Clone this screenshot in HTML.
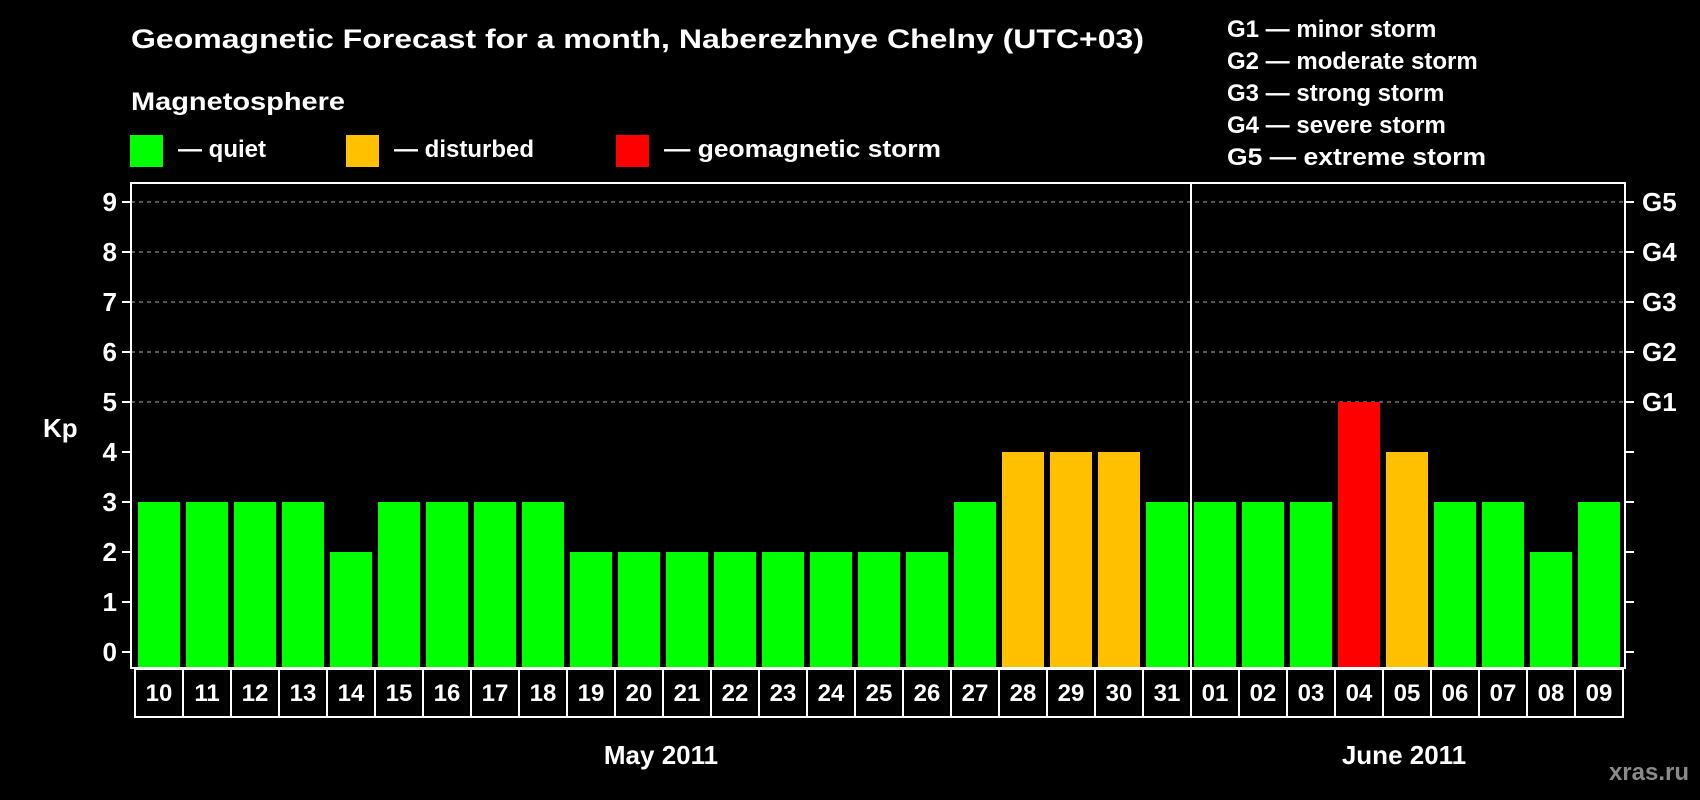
<!DOCTYPE html>
<html><head><meta charset="utf-8"><style>
html,body{margin:0;padding:0;background:#000;}
svg{display:block;font-family:"Liberation Sans",Arial,sans-serif;font-weight:bold;}
</style></head><body>
<svg id="chart" width="1700" height="800" viewBox="0 0 1700 800">
<rect x="0" y="0" width="1700" height="800" fill="#000"/>
<text x="131" y="48" fill="#fff" font-size="27" textLength="1013" lengthAdjust="spacingAndGlyphs">Geomagnetic Forecast for a month, Naberezhnye Chelny (UTC+03)</text>
<text x="131" y="110" fill="#fff" font-size="25" textLength="214" lengthAdjust="spacingAndGlyphs">Magnetosphere</text>
<g>
<rect x="130" y="135" width="33" height="32" fill="#00ff00"/>
<text x="178" y="157" fill="#fff" font-size="24">— quiet</text></g>
<g>
<rect x="346" y="135" width="33" height="32" fill="#ffc000"/>
<text x="394" y="157" fill="#fff" font-size="24">— disturbed</text></g>
<g>
<rect x="616" y="135" width="33" height="32" fill="#ff0000"/>
<text x="664" y="157" fill="#fff" font-size="24" textLength="277" lengthAdjust="spacingAndGlyphs">— geomagnetic storm</text></g>
<g fill="#fff" font-size="24">
<text x="1227" y="37">G1 — minor storm</text>
<text x="1227" y="69">G2 — moderate storm</text>
<text x="1227" y="101">G3 — strong storm</text>
<text x="1227" y="133">G4 — severe storm</text>
<text x="1227" y="165" textLength="259" lengthAdjust="spacingAndGlyphs">G5 — extreme storm</text>
</g>
<text x="43" y="437" fill="#fff" font-size="26">Kp</text>
<g id="grid"></g>
<g id="bars"></g>
<g id="axes"></g>
<text x="661" y="764" fill="#fff" font-size="26" text-anchor="middle">May 2011</text>
<text x="1404" y="764" fill="#fff" font-size="26" text-anchor="middle">June 2011</text>
<text x="1689" y="780" fill="#8a8a8a" font-size="24" text-anchor="end">xras.ru</text>
</svg>
<script>
const days = ["10","11","12","13","14","15","16","17","18","19","20","21","22","23","24","25","26","27","28","29","30","31","01","02","03","04","05","06","07","08","09"];
const kpValues = [3,3,3,3,2,3,3,3,3,2,2,2,2,2,2,2,2,3,4,4,4,3,3,3,3,5,4,3,3,2,3];
const yTicks = [0,1,2,3,4,5,6,7,8,9];
const gLabels = ["G1","G2","G3","G4","G5"];
const monthBreakIndex = 22;

const NS="http://www.w3.org/2000/svg";
const plotL=131, plotR=1625, plotT=183, plotB=668;
const y0=652, unit=50;
const yScale=v=>y0-v*unit;
const xStart=138, pitch=48, bw=42;
const xScale=i=>xStart+i*pitch;
function mk(tag,attrs,parent){const e=document.createElementNS(NS,tag);for(const k in attrs)e.setAttribute(k,attrs[k]);parent.appendChild(e);return e;}
const grid=document.getElementById('grid'),bars=document.getElementById('bars'),axes=document.getElementById('axes');
function color(v){return v>=5?"#ff0000":(v>=4?"#ffc000":"#00ff00");}

yTicks.forEach(t=>{
  const y=yScale(t);
  if(t>=5){const l=mk('line',{x1:plotL,x2:plotR,y1:y,y2:y,stroke:'#8c8c8c','stroke-width':1.2,'stroke-dasharray':'4,4'},grid);
    
    }
  const tl=mk('line',{x1:122,x2:plotL,y1:y,y2:y,stroke:'#fff','stroke-width':2},axes);
  
  
  const tr=mk('line',{x1:plotR,x2:plotR+9,y1:y,y2:y,stroke:'#fff','stroke-width':2},axes);
  
  
  const tx=mk('text',{x:117,y:y+9,fill:'#fff','font-size':26,'text-anchor':'end'},axes);
  tx.textContent=t;
  
  
  if(t>=5){const g=mk('text',{x:1642,y:y+9,fill:'#fff','font-size':26},axes);
    g.textContent=gLabels[t-5];
    
    }
});

kpValues.forEach((v,i)=>{
  const r=mk('rect',{x:xScale(i),y:yScale(v),width:bw,height:plotB-yScale(v),fill:color(v)},bars);
  
  
});

const frame=mk('rect',{x:plotL,y:plotT,width:plotR-plotL,height:plotB-plotT,fill:'none',stroke:'#fff','stroke-width':2},axes);


const mx=xScale(monthBreakIndex)-3;
const ml=mk('line',{x1:mx,x2:mx,y1:plotT,y2:plotB,stroke:'#fff','stroke-width':2},axes);



days.forEach((d,i)=>{
  const bx=xScale(i)-3;
  const b=mk('rect',{x:bx,y:669,width:pitch,height:48,fill:'none',stroke:'#fff','stroke-width':2},axes);
  
  
  const t=mk('text',{x:bx+pitch/2,y:701,fill:'#fff','font-size':24,'text-anchor':'middle'},axes);
  t.textContent=d;
  
  
});
</script>
</body></html>
